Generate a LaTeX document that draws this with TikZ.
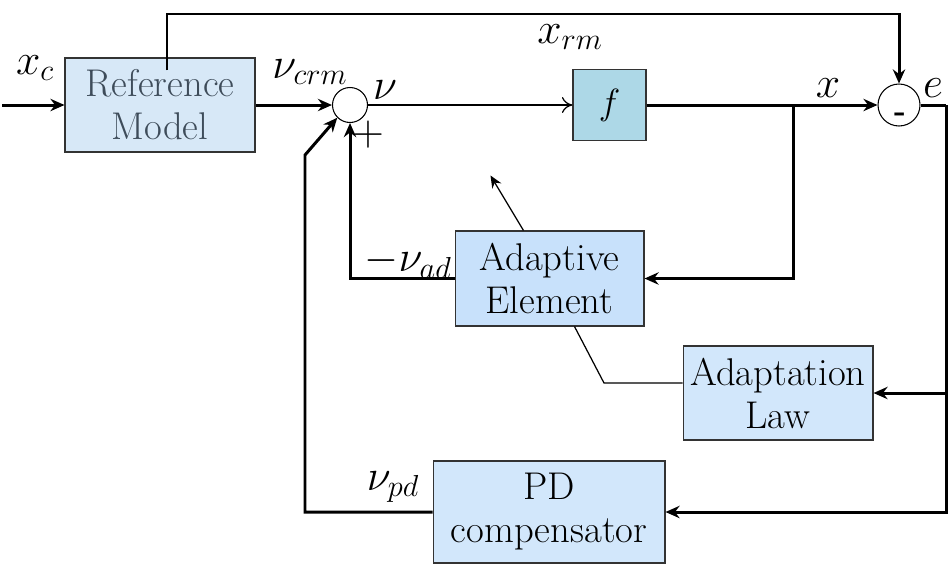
\documentclass[tikz,border=0pt]{standalone}
\usetikzlibrary{arrows.meta,calc}
\definecolor{rmfill}{HTML}{D7E8F7}
\definecolor{rmtext}{HTML}{3E4C5A}
\definecolor{ffill}{HTML}{ADD8E7}
\definecolor{aefill}{HTML}{C8E1FB}
\definecolor{lawfill}{HTML}{D2E7FB}
\tikzset{
  blk/.style={draw=black!80,line width=0.6pt,fill=#1,align=center,
    font=\fontsize{22}{24.5}\selectfont,inner sep=0pt},
  sumc/.style={draw=black,line width=0.6pt,fill=white,circle,inner sep=0pt},
  sig/.style={line width=1.7pt,-{Stealth[length=8pt,width=7pt]}},
  sigline/.style={line width=1.7pt},
  thinsig/.style={line width=0.7pt,-{To[length=6pt,width=9pt]}},
  thinline/.style={line width=0.7pt},
  lbl/.style={font=\fontsize{24}{28}\selectfont,inner sep=0pt},
}
\begin{document}
\begin{tikzpicture}[x=0.02cm,y=-0.02cm]
\useasboundingbox (0,0) rectangle (952,579);
% blocks
\node[blk=rmfill,text=rmtext,minimum width=3.8cm,minimum height=1.88cm] (ref) at (160,105) {Reference\\Model};
\node[sumc,minimum size=0.7cm] (s1) at (350,105) {};
\node[blk=ffill,minimum width=1.46cm,minimum height=1.42cm] (f) at (609.5,105) {$f$};
\node[sumc,minimum size=0.84cm] (s2) at (899,105) {};
\node[blk=aefill,minimum width=3.78cm,minimum height=1.9cm] (ae) at (549.5,278.5) {Adaptive\\Element};
\node[blk=lawfill,minimum width=3.8cm,minimum height=1.88cm] (law) at (778,393) {Adaptation\\Law};
\node[blk=lawfill,minimum width=4.64cm,minimum height=2.04cm] (pd) at (549,512) {PD\\compensator};
% corner points
\coordinate (in) at (2,105);
\coordinate (top) at (167,14);
\coordinate (br) at (793,105);
\coordinate (er) at (946,105);
\coordinate (kink) at (604,383);
\coordinate (pdk) at (305,155);
% forward path
\draw[sig] (in) -- (ref.west);
\draw[sig] (ref.east) -- (s1.west);
\draw[thinsig] (s1.east) -- (f.west);
\draw[sig] (f.east) -- (s2.west);
\draw[sig] ($(ref.north)+(7,13)$) -- (top) -| (s2.north);
% feedback paths
\draw[sig] (br) |- (ae.east);
\draw[sig] (ae.west) -| (s1.south);
\draw[sigline] (s2.east) -- (er);
\draw[sig] (er) |- (pd.east);
\draw[sig] (law.east -| er) -- (law.east);
\draw[sig] (pd.west) -| (pdk) -- (s1.225);
\draw[thinline] ($(law.west)+(0,-10)$) -- (kink) -- ($(ae.south)+(25,0)$);
\draw[thinsig,-{Stealth[length=7pt,width=6pt]}] ($(ae.north)+(-26,0)$) -- ++(-33,-55);
% labels
\node[lbl] (lxc) at (35,68) {$x_c$};
\node[lbl] (lvcrm) at (310,72) {$\nu_{crm}$};
\node[lbl] (lv) at (385,90) {$\nu$};
\node[lbl] (lxrm) at (570,37) {$x_{rm}$};
\node[lbl] (lx) at (828,88) {$x$};
\node[lbl] (le) at (933,88) {$e$};
\node[lbl,anchor=east] (lvad) at (452,262) {$-\nu_{ad}$};
\node[lbl] (lvpd) at (393,487) {$\nu_{pd}$};
\node[lbl] (lplus) at (368,135) {$+$};
\node[font=\fontsize{18}{20}\selectfont\bfseries,inner sep=0pt] (lminus) at (900,117) {-};
\end{tikzpicture}
\end{document}
